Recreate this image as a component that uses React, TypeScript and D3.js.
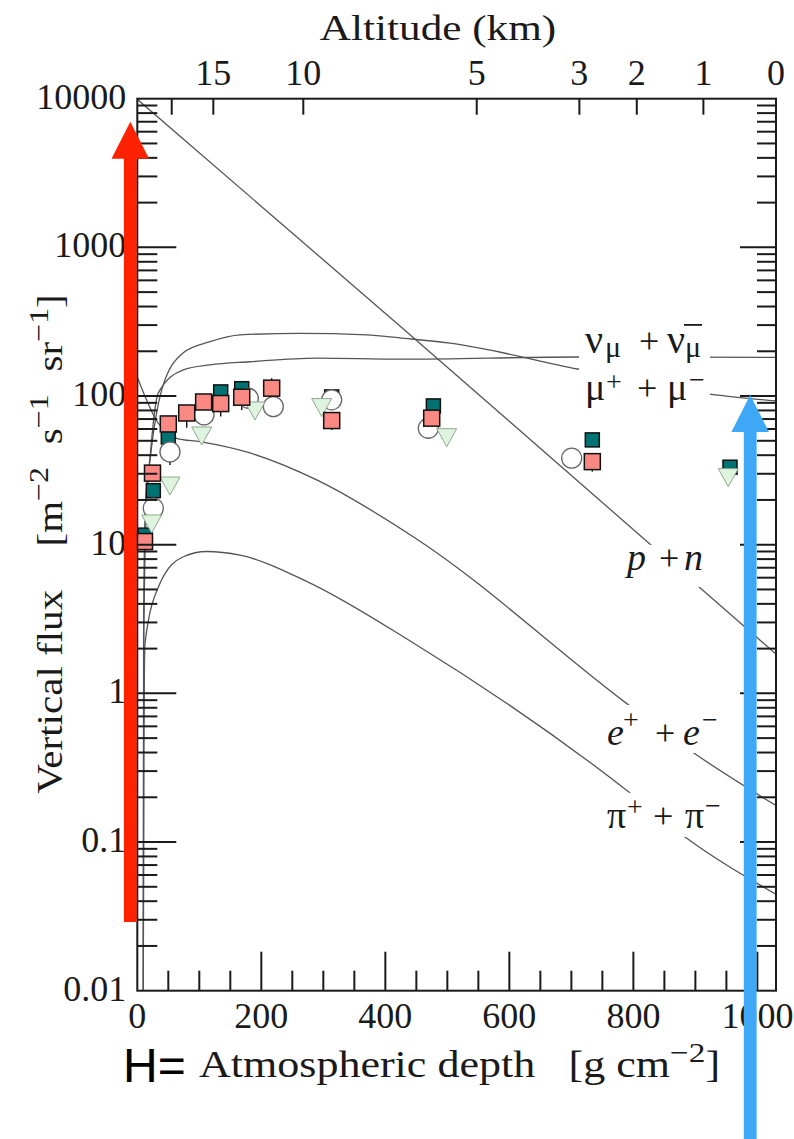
import React from "react";
import * as d3 from "d3";

const WIDTH = 794;
const HEIGHT = 1139;

// ---- axes ----
const depthDomain: [number, number] = [0, 1030];
const fluxDomain: [number, number] = [0.01, 10000];
const depthMajorTicks = [0, 200, 400, 600, 800, 1000];
const depthTickLabels = ["0", "200", "400", "600", "800", "1000"];
const depthMinorStep = 50;
const fluxMajorTicks = [0.01, 0.1, 1, 10, 100, 1000, 10000];
const fluxTickLabels = ["0.01", "0.1", "1", "10", "100", "1000", "10000"];
const altitudeKm = [20, 15, 10, 5, 3, 2, 1, 0];
const altitudeDepth = [55.5, 122.6, 267.7, 547.4, 712.9, 805.5, 912.9, 1030];
const altitudeLabels = ["", "15", "10", "5", "3", "2", "1", "0"];

// ---- model curves: [depth g/cm2, flux] ----
const curveProtonNeutron = [[0, 9900], [424, 295], [1030, 1.84]];
const curveMuon = [
  [9.7, 0.01], [10.2, 3], [13, 18], [20.5, 37], [39.4, 110], [73.7, 195], [117.3, 232],
  [165.6, 258], [262.4, 264], [370, 258], [423.6, 246], [504.4, 227], [710.2, 152],
  [923.6, 103], [1030, 92.7],
];
const curveNeutrino = [
  [9.7, 0.01], [10.3, 2], [14, 15], [22, 45], [33.9, 105], [74.2, 150], [117.3, 162],
  [181.7, 170], [289.3, 180], [423.6, 177], [710.2, 183], [1030, 182],
];
const curveElectron = [
  [0, 134], [33.9, 65.6], [63.5, 52], [101, 49.3], [181.7, 41.4], [289.3, 27.3],
  [448, 11.1], [791.5, 0.84], [896.3, 0.4], [1030, 0.176],
];
const curvePion = [
  [9.7, 0.01], [10.5, 0.4], [12.4, 2.18], [36.6, 5.5], [74.2, 8.3], [111.9, 9.0],
  [165.6, 8.5], [273.7, 5.65], [444.6, 2.19], [794.7, 0.214], [883.4, 0.108], [1030, 0.0445],
];

// ---- measurements: [depth, flux] ----
const tealSquares = [
  [12.4, 11.6], [25.8, 23.1], [50, 53.1], [134.5, 106.6], [168.4, 112], [313.5, 98.6],
  [477.5, 85.8], [733.8, 50.7], [955.8, 33.2],
];
const salmonSquares = [
  [11.6, 10.5], [24.5, 30.3], [50, 64.9], [79.7, 76.9], [107, 91.2], [134.5, 89],
  [168.4, 98.2], [216.7, 113], [313.5, 68.4], [474.8, 71], [733.8, 36.2],
];
const whiteCircles = [
  [25.8, 17.6], [52.7, 42.1], [107.6, 74.7], [179, 96.6], [219.3, 84.9], [313.5, 94.3],
  [469.3, 60.7], [700.5, 38.2],
];
const greenTriangles = [
  [23.2, 14], [52.7, 25.2], [103.9, 54.7], [189.8, 80.6], [297.4, 84.9], [499, 53.3], [953, 28.7],
];
// error bars: [depth, from flux, to flux]
const errorBars = [
  [79.7, 76.9, 61.3], [107, 91.2, 65.9], [134.5, 89, 72.7], [168.4, 98.2, 80.6],
  [216.7, 113, 131.8], [313.5, 68.4, 59.2], [733.8, 36.2, 31], [52.7, 42.1, 34.4],
];

// ---- curve label anchors: [depth, flux] ----
const labelNu = [722, 195];
const labelMu = [722, 94.2];
const labelPN = [789.8, 6.77];
const labelEE = [757.6, 0.45];
const labelPiPi = [757.6, 0.1246];

// ---- annotation arrows: depth, flux from -> to ----
const redArrow = { depth: -11.3, from: 0.029, to: 7000, color: "#ff2200" };
const blueArrow = { depth: 988.4, from: 0.0008, to: 101.7, color: "#3ea8f6" };

const SERIF = "'Liberation Serif', 'Times New Roman', serif";
const SANS = "'Liberation Sans', Arial, sans-serif";
const INK = "#1a1a1a";

function arrowPath(xc: number, yTip: number, yBase: number) {
  const sw = 6.4, hw = 18.8, hl = 37;
  return `M${xc},${yTip}L${xc + hw},${yTip + hl}L${xc + sw},${yTip + hl}L${xc + sw},${yBase}L${xc - sw},${yBase}L${xc - sw},${yTip + hl}L${xc - hw},${yTip + hl}Z`;
}

export default function App() {
  const x = d3.scaleLinear().domain(depthDomain).range([137.3, 776]);
  const y = d3.scaleLog().domain(fluxDomain).range([990.7, 98.7]);
  const [x0, x1] = x.range();
  const [yb, yt] = y.range();

  const line = d3
    .line<number[]>()
    .x((d) => x(d[0]))
    .y((d) => y(d[1]))
    .curve(d3.curveMonotoneX);

  const fluxMinor = y
    .ticks()
    .filter((v) => !fluxMajorTicks.some((m) => Math.abs(m - v) / m < 1e-6));
  const depthMinor = d3
    .range(depthMinorStep, 1001, depthMinorStep)
    .filter((v) => v % 200 !== 0);

  const curves = [curveProtonNeutron, curveMuon, curveNeutrino, curveElectron, curvePion];

  const nu = [x(labelNu[0]), y(labelNu[1])];
  const mu = [x(labelMu[0]), y(labelMu[1])];
  const pn = [x(labelPN[0]), y(labelPN[1])];
  const ee = [x(labelEE[0]), y(labelEE[1])];
  const pp = [x(labelPiPi[0]), y(labelPiPi[1])];

  return (
    <svg
      width={WIDTH}
      height={HEIGHT}
      viewBox={`0 0 ${WIDTH} ${HEIGHT}`}
      style={{ position: "absolute", left: 0, top: 0, background: "#fff" }}
    >
      <defs>
        <clipPath id="plot-clip">
          <rect x={x0} y={yt} width={x1 - x0} height={yb - yt} />
        </clipPath>
      </defs>
      <rect x={0} y={0} width={WIDTH} height={HEIGHT} fill="#fff" />

      {/* model curves */}
      <g clipPath="url(#plot-clip)" fill="none" stroke="#555" strokeWidth={1.3}>
        {curves.map((c, i) => (
          <path key={i} d={line(c) || ""} />
        ))}
      </g>

      {/* white boxes behind curve labels */}
      <g fill="#fff">
        <rect x={nu[0] - 6} y={nu[1] - 27} width={131} height={86} />
        <rect x={pn[0] - 5} y={pn[1] - 25} width={84} height={42} />
        <rect x={ee[0] - 4} y={ee[1] - 40} width={122} height={48} />
        <rect x={pp[0] - 4} y={pp[1] - 35} width={125} height={44} />
      </g>

      {/* curve labels */}
      <g fontFamily={SERIF} fill={INK}>
        <text fontSize={40}>
          <tspan x={nu[0]} y={nu[1]}>ν</tspan>
          <tspan x={nu[0] + 20} y={nu[1] + 4} fontSize={30}>μ</tspan>
          <tspan x={nu[0] + 54} y={nu[1]} fontSize={36}>+</tspan>
          <tspan x={nu[0] + 82} y={nu[1]}>ν</tspan>
          <tspan x={nu[0] + 100} y={nu[1] + 4} fontSize={30}>μ</tspan>
        </text>
        <line x1={nu[0] + 99} x2={nu[0] + 117} y1={nu[1] - 28} y2={nu[1] - 28} stroke={INK} strokeWidth={1.8} />

        <text fontSize={38}>
          <tspan x={mu[0]} y={mu[1]}>μ</tspan>
          <tspan x={mu[0] + 21} y={mu[1] - 9} fontSize={28}>+</tspan>
          <tspan x={mu[0] + 52} y={mu[1]} fontSize={36}>+</tspan>
          <tspan x={mu[0] + 82} y={mu[1]}>μ</tspan>
          <tspan x={mu[0] + 104} y={mu[1] - 11} fontSize={28}>−</tspan>
        </text>

        <text fontSize={38}>
          <tspan x={pn[0]} y={pn[1]} fontStyle="italic">p</tspan>
          <tspan x={pn[0] + 32} y={pn[1]} fontSize={36}>+</tspan>
          <tspan x={pn[0] + 57} y={pn[1]} fontStyle="italic">n</tspan>
        </text>

        <text fontSize={38}>
          <tspan x={ee[0]} y={ee[1]} fontStyle="italic">e</tspan>
          <tspan x={ee[0] + 16} y={ee[1] - 16} fontSize={28}>+</tspan>
          <tspan x={ee[0] + 48} y={ee[1]} fontSize={36}>+</tspan>
          <tspan x={ee[0] + 76} y={ee[1]} fontStyle="italic">e</tspan>
          <tspan x={ee[0] + 95} y={ee[1] - 16} fontSize={28}>−</tspan>
        </text>

        <text fontSize={38}>
          <tspan x={pp[0]} y={pp[1]}>π</tspan>
          <tspan x={pp[0] + 20} y={pp[1] - 12} fontSize={28}>+</tspan>
          <tspan x={pp[0] + 46} y={pp[1]} fontSize={36}>+</tspan>
          <tspan x={pp[0] + 78} y={pp[1]}>π</tspan>
          <tspan x={pp[0] + 98} y={pp[1] - 13} fontSize={28}>−</tspan>
        </text>
      </g>

      {/* error bars */}
      <g stroke="#111" strokeWidth={1.4}>
        {errorBars.map((d, i) => (
          <line key={i} x1={x(d[0])} x2={x(d[0])} y1={y(d[1])} y2={y(d[2])} />
        ))}
      </g>

      {/* markers */}
      <g>
        {tealSquares.map((d, i) => (
          <rect key={i} x={x(d[0]) - 7} y={y(d[1]) - 7} width={14} height={14} fill="#007272" stroke="#111" strokeWidth={1.5} />
        ))}
        {whiteCircles.map((d, i) => (
          <circle key={i} cx={x(d[0])} cy={y(d[1])} r={10} fill="#fff" stroke="#666" strokeWidth={1.3} />
        ))}
        {greenTriangles.map((d, i) => {
          const cx = x(d[0]);
          const cy = y(d[1]);
          return (
            <path
              key={i}
              d={`M${cx - 10},${cy - 8}L${cx + 10},${cy - 8}L${cx},${cy + 10}Z`}
              fill="#dff4df"
              stroke="#8fa88f"
              strokeWidth={1}
            />
          );
        })}
        {salmonSquares.map((d, i) => (
          <rect key={i} x={x(d[0]) - 8} y={y(d[1]) - 8} width={16} height={16} fill="#fa8883" stroke="#111" strokeWidth={1.5} />
        ))}
      </g>

      {/* frame and ticks */}
      <g stroke={INK} strokeWidth={2} fill="none">
        <rect x={x0} y={yt} width={x1 - x0} height={yb - yt} />
        {fluxMajorTicks.slice(1, -1).map((v, i) => (
          <g key={"fm" + i}>
            <line x1={x0} x2={x0 + 39} y1={y(v)} y2={y(v)} />
            <line x1={x1} x2={x1 - 36} y1={y(v)} y2={y(v)} />
          </g>
        ))}
        {fluxMinor.map((v, i) => (
          <g key={"fn" + i}>
            <line x1={x0} x2={x0 + 20} y1={y(v)} y2={y(v)} />
            <line x1={x1} x2={x1 - 19} y1={y(v)} y2={y(v)} />
          </g>
        ))}
        {depthMajorTicks.slice(1).map((v, i) => (
          <line key={"dm" + i} x1={x(v)} x2={x(v)} y1={yb} y2={yb - 39} />
        ))}
        {depthMinor.map((v, i) => (
          <line key={"dn" + i} x1={x(v)} x2={x(v)} y1={yb} y2={yb - 20} />
        ))}
        {altitudeDepth.map((v, i) => (
          <line key={"at" + i} x1={x(v)} x2={x(v)} y1={yt} y2={yt + 16} />
        ))}
      </g>

      {/* tick labels */}
      <g fontFamily={SERIF} fontSize={36} fill={INK}>
        {fluxMajorTicks.map((v, i) => (
          <text key={"fl" + i} x={x0 - 11} y={y(v) + 10} textAnchor="end">
            {fluxTickLabels[i]}
          </text>
        ))}
        {depthMajorTicks.map((v, i) => (
          <text key={"dl" + i} x={x(v)} y={1028} textAnchor="middle">
            {depthTickLabels[i]}
          </text>
        ))}
        {altitudeDepth.map((v, i) =>
          altitudeLabels[i] ? (
            <text key={"al" + i} x={x(v)} y={85} textAnchor="middle">
              {altitudeLabels[i]}
            </text>
          ) : null
        )}
      </g>

      {/* axis titles */}
      <g fontFamily={SERIF} fill={INK}>
        <text transform={`translate(438,40) scale(1.2,1)`} fontSize={36} textAnchor="middle">
          Altitude (km)
        </text>
        <text transform={`translate(62,544) rotate(-90) scale(1.14,1)`} fontSize={36} textAnchor="middle">
          <tspan>Vertical flux</tspan>
          <tspan dx={38}>[m</tspan>
          <tspan dy={-14} fontSize={28}>−2</tspan>
          <tspan dy={14} dx={20}>s</tspan>
          <tspan dy={-14} fontSize={28}>−1</tspan>
          <tspan dy={14} dx={20}>sr</tspan>
          <tspan dy={-14} fontSize={28}>−1</tspan>
          <tspan dy={14}>]</tspan>
        </text>
        <text transform={`translate(199,1077) scale(1.19,1)`} fontSize={37}>
          <tspan>Atmospheric depth</tspan>
          <tspan dx={28}>[g cm</tspan>
          <tspan dy={-15} fontSize={28}>−2</tspan>
          <tspan dy={15}>]</tspan>
        </text>
      </g>
      <text x={123} y={1082} fontFamily={SANS} fontSize={48} fill="#000">
        H=
      </text>

      {/* annotation arrows */}
      <path d={arrowPath(x(redArrow.depth), y(redArrow.to), y(redArrow.from))} fill={redArrow.color} />
      <path d={arrowPath(x(blueArrow.depth), y(blueArrow.to), Math.min(HEIGHT, y(blueArrow.from)))} fill={blueArrow.color} />
    </svg>
  );
}
